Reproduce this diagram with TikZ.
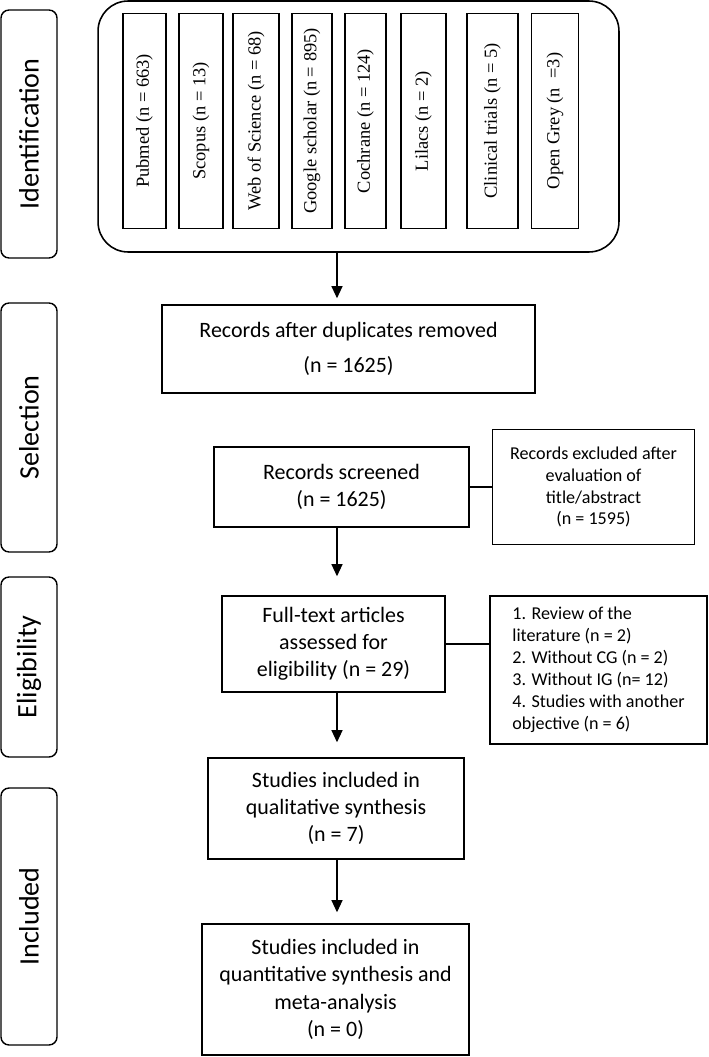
\documentclass[tikz,border=0pt]{standalone}
\usepackage{fontspec}
\setmainfont{Liberation Serif}
\newfontfamily\calibri{Carlito}
\usetikzlibrary{positioning, arrows.meta}

\begin{document}
\begin{tikzpicture}[
    x=0.02cm, y=-0.02cm, % one unit = one pixel of the figure
    line width=0.6pt,
    phase/.style={rectangle, draw, line width=0.8pt, rounded corners=0.16cm, rotate=90, minimum height=1.12cm, inner sep=0pt, font=\calibri\fontsize{16}{18}\selectfont},
    db/.style={rectangle, draw, line width=0.8pt, rotate=90, minimum width=4.3cm, inner sep=0pt, font=\fontsize{10.5}{12}\selectfont},
    flowbox/.style={rectangle, draw, line width=0.9pt, align=center, inner sep=0pt, font=\calibri\fontsize{12.5}{15.5}\selectfont},
    exclbox/.style={flowbox, font=\calibri\fontsize{10.3}{12.5}\selectfont},
    >={Triangle[width=0.22cm, length=0.24cm]}]

  \useasboundingbox (0,0) rectangle (709,1057);

  % Phase labels on the left
  \node (ident) [phase, minimum width=4.96cm] at (29,134) {Identification};
  \node (sel) [phase, minimum width=4.98cm] at (29,427.5) {Selection};
  \node (elig) [phase, minimum width=3.6cm] at (29,667) {Eligibility};
  \node (incl) [phase, minimum width=5.14cm] at (29,916.5) {Included};

  % Databases searched
  \node (sources) [draw, line width=0.9pt, rounded corners=0.6cm, minimum width=10.42cm, minimum height=5.02cm] at (358.5,126.5) {};
  \foreach \name/\txt/\xpos/\w in {
      pubmed/Pubmed (n = 663)/144.5/0.86,
      scopus/Scopus (n = 13)/201/0.88,
      wos/Web of Science (n = 68)/256/0.92,
      google/Google scholar (n = 895)/312/0.8,
      cochrane/Cochrane (n = 124)/365.5/0.82,
      lilacs/Lilacs (n = 2)/423.5/0.9,
      trials/Clinical trials (n = 5)/492.5/1.02,
      grey/Open Grey (n~ =3)/555/0.94}
    \node (\name) [db, minimum height=\w cm] at (\xpos,121) {\txt};

  % Main flow
  \node (dup) [flowbox, minimum width=7.46cm, minimum height=1.76cm] at (348.5,349) {Records after duplicates removed\\[0.15cm](n = 1625)};
  \node (screened) [flowbox, minimum width=5.1cm, minimum height=1.6cm] at (341.5,487) {Records screened\\(n = 1625)};
  \node (excl1) [exclbox, minimum width=4.04cm, minimum height=2.3cm, right=0.44cm of screened] {Records excluded after\\evaluation of\\title/abstract\\(n = 1595)};
  \node (fulltext) [flowbox, minimum width=4.46cm, minimum height=1.92cm] at (333.5,644) {Full-text articles\\assessed for\\eligibility (n = 29)};
  \node (excl2) [exclbox, align=left, minimum width=4.34cm, minimum height=2.96cm] at (598.5,670) {1. Review of the\\literature (n = 2)\\2. Without CG (n = 2)\\3. Without IG (n= 12)\\4. Studies with another\\objective (n = 6)};
  \node (qual) [flowbox, minimum width=5.12cm, minimum height=2.02cm] at (336,808.5) {Studies included in\\qualitative synthesis\\(n = 7)};
  \node (quant) [flowbox, minimum width=5.34cm, minimum height=2.62cm] at (335.5,989.5) {Studies included in\\quantitative synthesis and\\meta-analysis\\(n = 0)};

  % Arrows down the middle
  \coordinate (axis) at (337,0);
  \draw [->, shorten >=0.12cm] (sources.south -| axis) -- (dup.north -| axis);
  \draw [->, shorten >=0.38cm] (screened.south -| axis) -- (fulltext.north -| axis);
  \draw [->, shorten >=0.3cm] (fulltext.south -| axis) -- (qual.north -| axis);
  \draw [->, shorten >=0.22cm] (qual.south -| axis) -- (quant.north -| axis);

  % Lines to the exclusion boxes
  \draw (screened.east) -- (excl1.west);
  \draw (fulltext.east) -- (fulltext.east -| excl2.west);
\end{tikzpicture}
\end{document}
